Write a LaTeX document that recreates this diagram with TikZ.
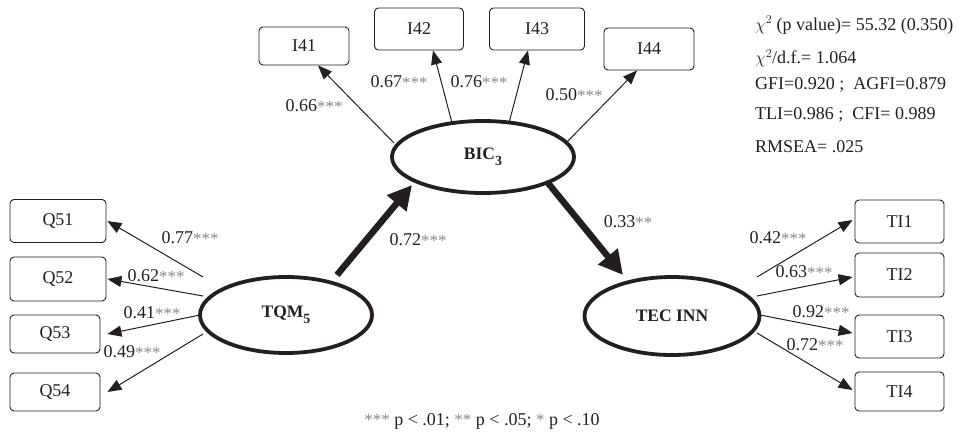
\documentclass[tikz,border=0pt]{standalone}
\usepackage{fontspec}
\setmainfont{Liberation Serif}
\usetikzlibrary{arrows.meta,calc,shapes.geometric}
\definecolor{ink}{HTML}{231F20}
\definecolor{stargray}{HTML}{8A8A8A}
\newcommand{\mystars}[1]{\textcolor{stargray}{\raisebox{-0.05em}{\fontsize{17}{17}\selectfont #1}}}
\newcommand{\mysub}[1]{\raisebox{-0.35em}{\fontsize{14}{14}\selectfont #1}}
\tikzset{
  obox/.style={draw=ink, rounded corners=4pt, line width=0.9pt, inner sep=0pt, text=ink, font=\fontsize{18}{20}\selectfont},
  latent/.style={draw=ink, ellipse, line width=3.8pt, inner sep=0pt, text=ink, font=\fontsize{17.5}{20}\selectfont\bfseries},
  thin/.style={draw=ink, line width=1pt, -{Triangle[length=14pt,width=11pt]}},
  thick/.style={draw=ink, line width=6.5pt, -{Triangle[length=24pt,width=24pt]}},
  lbl/.style={text=ink, inner sep=0pt, font=\fontsize{18}{20}\selectfont},
  fit/.style={text=ink, inner sep=0pt, anchor=west, font=\fontsize{18}{20}\selectfont},
}
\begin{document}
\begin{tikzpicture}[x=1pt,y=-1pt]
\useasboundingbox (0,0) rectangle (966,433);
% latent variables
\node[latent, minimum width=182pt, minimum height=72pt] (BIC) at (483,157) {BIC\mysub{3}};
\node[latent, minimum width=172pt, minimum height=76pt] (TQM) at (286,315) {TQM\mysub{5}};
\node[latent, minimum width=175pt, minimum height=78pt] (TEC) at (672,316) {TEC INN};
% indicator boxes
\node[obox, minimum width=90pt, minimum height=38pt] (I41) at (304,46) {I41};
\node[obox, minimum width=89pt, minimum height=42pt] (I42) at (419,29) {I42};
\node[obox, minimum width=95pt, minimum height=42pt] (I43) at (537,29) {I43};
\node[obox, minimum width=90pt, minimum height=42pt] (I44) at (649,49) {I44};
\node[obox, minimum width=96pt, minimum height=43pt] (Q51) at (58,221) {Q51};
\node[obox, minimum width=96pt, minimum height=44pt] (Q52) at (58,279) {Q52};
\node[obox, minimum width=90pt, minimum height=38pt] (Q53) at (55,334) {Q53};
\node[obox, minimum width=90pt, minimum height=38pt] (Q54) at (55,392) {Q54};
\node[obox, minimum width=89pt, minimum height=43pt] (TI1) at (899.5,221.5) {TI1};
\node[obox, minimum width=89pt, minimum height=44pt] (TI2) at (899.5,275) {TI2};
\node[obox, minimum width=89pt, minimum height=43pt] (TI3) at (899.5,336.5) {TI3};
\node[obox, minimum width=89pt, minimum height=39pt] (TI4) at (899.5,391.5) {TI4};
% BIC loadings
\draw[thin] ([shift={(-89,-14)}]BIC.center) -- ([xshift=14pt]I41.south);
\draw[thin] ([shift={(-31,-34)}]BIC.center) -- ([xshift=14pt]I42.south);
\draw[thin] ([shift={(26,-34)}]BIC.center) -- ([xshift=-9pt]I43.south);
\draw[thin] ([shift={(83,-14)}]BIC.center) -- ([xshift=-12pt]I44.south);
% TQM loadings
\draw[thin] ([shift={(-83,-38)}]TQM.center) -- ([xshift=1pt]Q51.east);
\draw[thin] ([shift={(-83,-19)}]TQM.center) -- ([xshift=1pt]Q52.east);
\draw[thin] ([shift={(-86,0)}]TQM.center) -- ([xshift=7pt]Q53.east);
\draw[thin] ([shift={(-83,19)}]TQM.center) -- ([xshift=7pt]Q54.east);
% TEC loadings
\draw[thin] ([shift={(85,-39)}]TEC.center) -- ([shift={(-2,-1.5)}]TI1.west);
\draw[thin] ([shift={(85,-20)}]TEC.center) -- ([shift={(-2,2)}]TI2.west);
\draw[thin] ([shift={(88,-1)}]TEC.center) -- ([shift={(-2,-3.5)}]TI3.west);
\draw[thin] ([shift={(85,17)}]TEC.center) -- ([shift={(-2,-1.5)}]TI4.west);
% structural paths
\draw[thick] ([shift={(51,-40)}]TQM.center) -- ([shift={(-71,28)}]BIC.center);
\draw[thick] ([shift={(65,26)}]BIC.center) -- ([shift={(-49,-41)}]TEC.center);
% labels
\node[lbl] (l41) at (314,106) {0.66\mystars{***}};
\node[lbl] (l42) at (399,82) {0.67\mystars{***}};
\node[lbl] (l43) at (479,82) {0.76\mystars{***}};
\node[lbl] (l44) at (574,95) {0.50\mystars{***}};
\node[lbl] (l51) at (190,238) {0.77\mystars{***}};
\node[lbl] (l52) at (156,276) {0.62\mystars{***}};
\node[lbl] (l53) at (152,313) {0.41\mystars{***}};
\node[lbl] (l54) at (132,352) {0.49\mystars{***}};
\node[lbl] (lt1) at (778,238) {0.42\mystars{***}};
\node[lbl] (lt2) at (804,272) {0.63\mystars{***}};
\node[lbl] (lt3) at (821,312) {0.92\mystars{***}};
\node[lbl] (lt4) at (815,345) {0.72\mystars{***}};
\node[lbl] (lp1) at (418,240) {0.72\mystars{***}};
\node[lbl] (lp2) at (628,222) {0.33\mystars{**}};
% fit statistics
\node[fit] (f1) at (755,25) {$\chi^2$ (p value)= 55.32 (0.350)};
\node[fit] (f2) at (755,58) {$\chi^2$/d.f.= 1.064};
\node[fit] (f3) at (755,85) {GFI=0.920 ;\ \ AGFI=0.879};
\node[fit] (f4) at (755,115) {TLI=0.986 ;\ \ CFI= 0.989};
\node[fit] (f5) at (755,147) {RMSEA= .025};
% footnote
\node[lbl] (note) at (482,421) {\mystars{***} p {\textless} .01; \mystars{**} p {\textless} .05; \mystars{*} p {\textless} .10};
\end{tikzpicture}
\end{document}
